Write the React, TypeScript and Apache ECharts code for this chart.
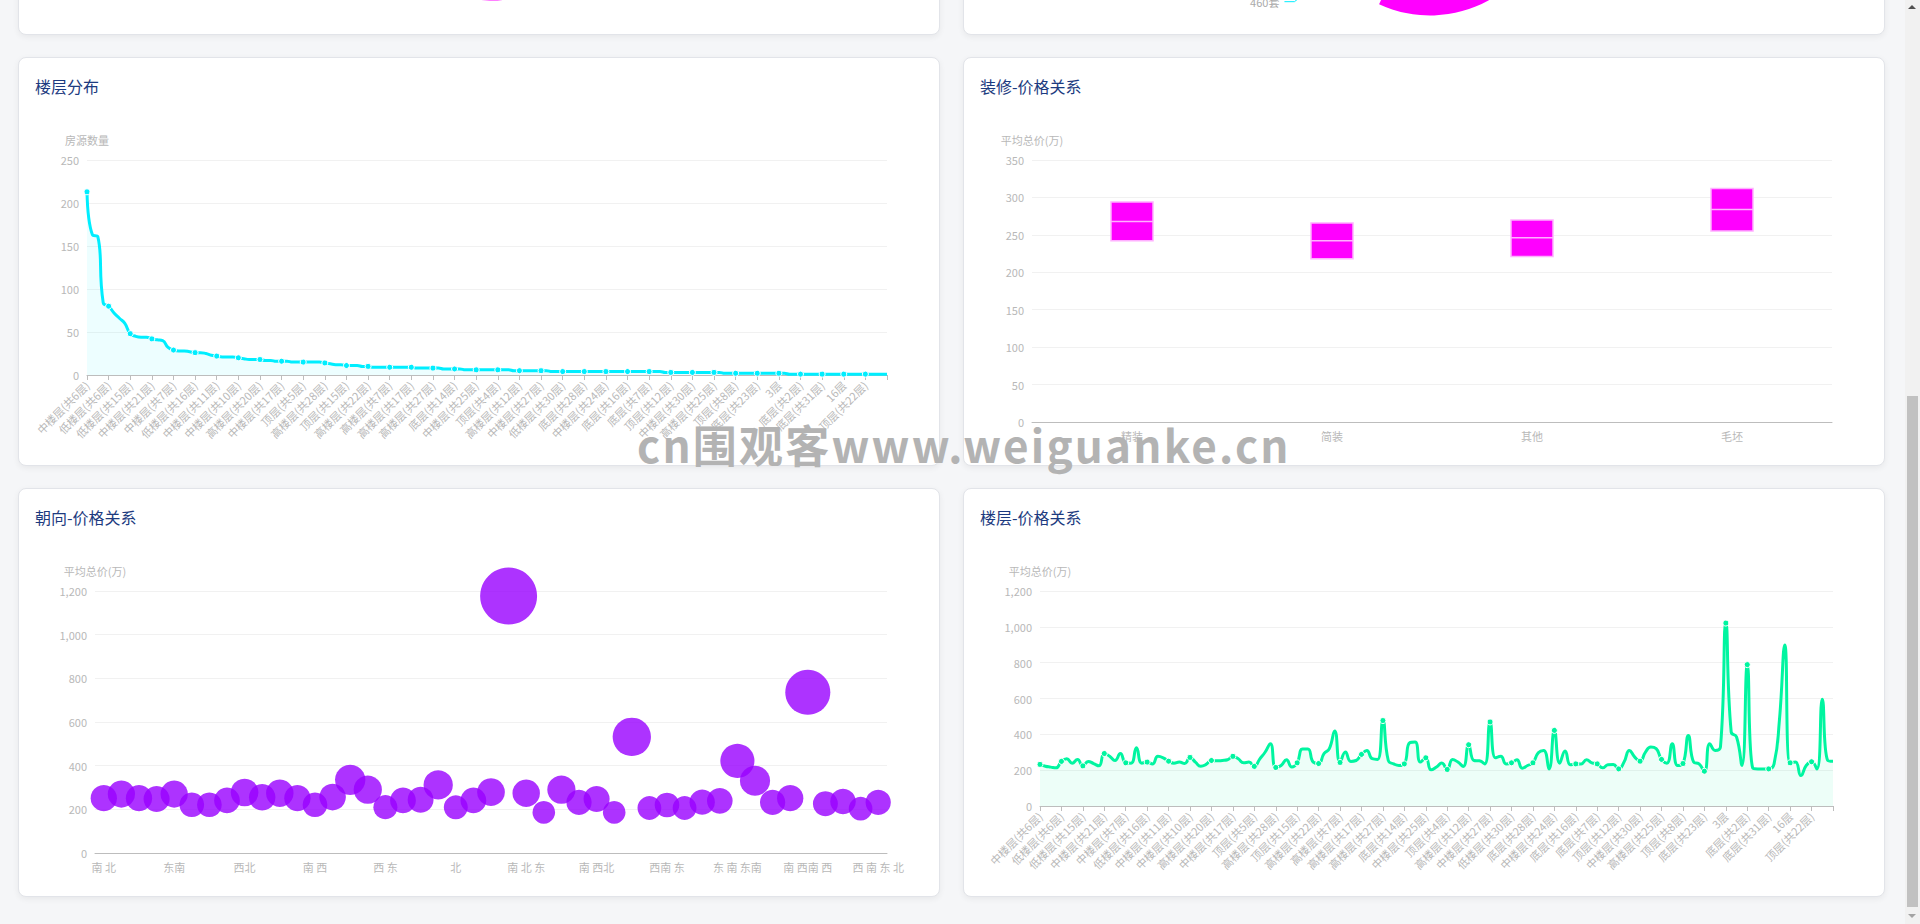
import React, { useEffect, useRef } from 'react';
import * as echarts from 'echarts';

// ---------------- data ----------------
const floorCategories = [
  '中楼层(共6层)', '高楼层(共6层)', '中楼层(共18层)', '高楼层(共18层)', '低楼层(共6层)', '低楼层(共18层)', '中楼层(共33层)', '高楼层(共33层)', '低楼层(共15层)', '低楼层(共33层)',
  '中楼层(共26层)', '高楼层(共11层)', '中楼层(共21层)', '低楼层(共11层)', '中楼层(共32层)', '高楼层(共26层)', '中楼层(共7层)', '低楼层(共26层)', '中楼层(共34层)', '高楼层(共32层)',
  '低楼层(共16层)', '低楼层(共32层)', '中楼层(共28层)', '高楼层(共34层)', '中楼层(共11层)', '低楼层(共7层)', '高楼层(共10层)', '低楼层(共34层)', '中楼层(共10层)', '中楼层(共15层)',
  '低楼层(共10层)', '高楼层(共15层)', '高楼层(共20层)', '低楼层(共28层)', '高楼层(共21层)', '低楼层(共21层)', '中楼层(共17层)', '中楼层(共20层)', '低楼层(共17层)', '中楼层(共16层)',
  '顶层(共5层)', '高楼层(共16层)', '中楼层(共22层)', '低楼层(共20层)', '高楼层(共28层)', '低楼层(共22层)', '中楼层(共29层)', '高楼层(共29层)', '顶层(共15层)', '低楼层(共29层)',
  '中楼层(共12层)', '低楼层(共25层)', '高楼层(共22层)', '低楼层(共27层)', '中楼层(共31层)', '低楼层(共12层)', '高楼层(共7层)', '高楼层(共31层)', '顶层(共6层)', '中楼层(共5层)',
  '高楼层(共17层)', '低楼层(共31层)', '中楼层(共9层)', '高楼层(共24层)', '高楼层(共27层)', '低楼层(共24层)', '中楼层(共14层)', '高楼层(共9层)', '底层(共14层)', '中楼层(共8层)',
  '低楼层(共9层)', '高楼层(共14层)', '中楼层(共25层)', '底层(共6层)', '中楼层(共4层)', '低楼层(共14层)', '顶层(共4层)', '高楼层(共30层)', '中楼层(共23层)', '顶层(共7层)',
  '高楼层(共12层)', '底层(共18层)', '高楼层(共23层)', '低楼层(共23层)', '中楼层(共27层)', '中楼层(共13层)', '底层(共33层)', '高楼层(共13层)', '低楼层(共30层)', '底层(共11层)',
  '顶层(共18层)', '低楼层(共13层)', '底层(共28层)', '中楼层(共19层)', '顶层(共33层)', '高楼层(共19层)', '中楼层(共24层)', '底层(共26层)', '顶层(共11层)', '低楼层(共19层)',
  '底层(共16层)', '中楼层(共3层)', '顶层(共26层)', '高楼层(共8层)', '底层(共7层)', '底层(共32层)', '顶层(共32层)', '低楼层(共8层)', '顶层(共12层)', '底层(共34层)',
  '顶层(共34层)', '高楼层(共5层)', '中楼层(共30层)', '底层(共10层)', '顶层(共28层)', '底层(共21层)', '高楼层(共25层)', '顶层(共21层)', '底层(共15层)', '顶层(共17层)',
  '顶层(共8层)', '底层(共17层)', '顶层(共16层)', '底层(共20层)', '底层(共23层)', '顶层(共20层)', '底层(共29层)', '顶层(共29层)', '3层', '中楼层(共2层)',
  '底层(共12层)', '顶层(共25层)', '底层(共2层)', '底层(共25层)', '顶层(共31层)', '底层(共27层)', '底层(共31层)', '顶层(共27层)', '底层(共24层)', '顶层(共24层)',
  '16层', '2层', '底层(共22层)', '顶层(共14层)', '顶层(共22层)', '底层(共13层)', '5层', '顶层(共13层)', '底层(共9层)',
];

const floorCounts = [
  213, 163, 161, 84, 80, 72, 66, 60, 48, 45,
  44, 44, 42, 41, 40, 32, 29, 28, 28, 27,
  26, 26, 25, 23, 22, 21, 21, 21, 20, 19,
  18, 18, 18, 17, 17, 16, 16, 16, 15, 15,
  15, 15, 15, 15, 14, 13, 12, 12, 11, 11,
  11, 10, 10, 9, 9, 9, 9, 9, 9, 9,
  9, 8, 8, 8, 8, 8, 7, 7, 7, 7,
  6, 6, 6, 6, 6, 6, 6, 6, 6, 5,
  5, 5, 5, 5, 5, 5, 4, 4, 4, 4,
  4, 4, 4, 4, 4, 4, 4, 4, 4, 4,
  4, 4, 4, 4, 4, 4, 4, 3, 3, 3,
  3, 3, 3, 3, 3, 3, 3, 3, 2, 2,
  2, 2, 2, 2, 2, 2, 2, 2, 2, 2,
  1, 1, 1, 1, 1, 1, 1, 1, 1, 1,
  1, 1, 1, 1, 1, 1, 1, 1, 1,
];

const floorPrices = [
  232, 222, 217, 213, 249, 264, 239, 260, 224, 249,
  237, 224, 293, 278, 254, 293, 241, 239, 325, 239,
  245, 235, 277, 269, 250, 239, 245, 237, 271, 245,
  222, 232, 254, 252, 254, 258, 277, 264, 241, 245,
  221, 262, 300, 348, 215, 226, 258, 217, 241, 318,
  318, 245, 237, 292, 320, 419, 243, 301, 249, 254,
  288, 310, 264, 260, 477, 254, 235, 226, 235, 353,
  357, 245, 269, 202, 218, 240, 204, 260, 245, 221,
  342, 254, 252, 235, 469, 269, 277, 235, 241, 258,
  211, 226, 241, 297, 310, 207, 422, 239, 307, 230,
  235, 235, 258, 241, 235, 213, 230, 232, 207, 245,
  310, 273, 250, 301, 329, 320, 260, 239, 348, 226,
  237, 394, 245, 235, 194, 348, 310, 330, 1021, 413,
  385, 226, 789, 213, 207, 207, 207, 235, 479, 899,
  241, 245, 170, 226, 247, 207, 596, 255, 250,
];

const decorationTypes = ['精装', '简装', '其他', '毛坯'];
const decorationLow = [242, 218, 221, 255];
const decorationMedian = [268, 242, 246, 284];
const decorationHigh = [294, 266, 270, 312];

const orientationNames = [
  '南 北', '南', '东 西', '东', '东南', '西', '西南', '东北', '西北', '南 东南',
  '东南 南', '北 南', '南 西', '东 南', '西南 南', '东南 北', '西 东', '东 北', '南 西南', '西 北',
  '北', '东南 西北', '西南 东北', '东 南 西 北', '南 北 东', '北 东', '南 东 北', '西南 西', '南 西北', '东北 西南',
  '东 西 南', '南 东北', '西南 东', '东 东南', '西北 东南', '北 西', '东 南 东南', '南 北 西', '西南 北', '东南 西',
  '南 西南 西', '西 南', '东北 南', '西 西南', '西 南 东 北',
];
const orientationPrices = [
  251, 270, 251, 247, 270, 221, 221, 241, 277, 255,
  274, 251, 221, 256, 335, 290, 210, 241, 244, 312,
  209, 241, 279, 1177, 274, 186, 290, 232, 247, 186,
  532, 206, 220, 206, 233, 239, 422, 331, 232, 251,
  736, 226, 236, 203, 232,
];

const roomTypeNames = ['2室1厅', '1室1厅', '3室2厅', '3室1厅', '2室2厅', '4室2厅'];
const roomTypeCounts = [927, 460, 620, 540, 343, 200];

const areaRangeNames = ['50-70㎡', '70-90㎡', '90-110㎡', '110-130㎡', '50㎡以下', '130㎡以上'];
const areaRangeCounts = [1150, 820, 420, 300, 240, 170];

// ---------------- styles ----------------
const FONT = '"Microsoft YaHei", "Noto Sans CJK SC", sans-serif';
const CYAN = '#00eeff';
const MAGENTA = '#ff00ff';
const PURPLE = '#9900ff';
const GREEN = '#00f5a0';
const TITLE_COLOR = '#1d3b80';
const AXIS_TEXT = '#b8b8b8';
const AXIS_LINE = '#bdbdbd';
const SPLIT = '#f1f1f1';

const CARD_W = 922;
const CARD_H = 409;

function titleOf(text: string) {
  return {
    text,
    left: 16,
    top: 20,
    padding: 0,
    textStyle: { fontSize: 16, fontWeight: 'normal', color: TITLE_COLOR, fontFamily: FONT },
  };
}

function valueAxis(name: string, max: number, interval: number) {
  return {
    type: 'value',
    name,
    min: 0,
    max,
    interval,
    nameTextStyle: { color: AXIS_TEXT, fontSize: 11, fontFamily: FONT },
    axisLabel: { color: AXIS_TEXT, fontSize: 11, fontFamily: FONT },
    axisLine: { show: false },
    axisTick: { show: false },
    splitLine: { lineStyle: { color: SPLIT } },
  };
}

function floorAxis() {
  return {
    type: 'category',
    boundaryGap: false,
    data: floorCategories,
    axisLine: { lineStyle: { color: AXIS_LINE } },
    axisTick: { interval: 3, lineStyle: { color: AXIS_LINE } },
    axisLabel: {
      interval: (i: number) => i % 4 === 0 && i < floorCategories.length - 1,
      rotate: 45,
      color: AXIS_TEXT,
      fontSize: 11,
      fontFamily: FONT,
    },
  };
}

const floorDistOption = {
  animation: false,
  title: titleOf('楼层分布'),
  grid: { left: 68, right: 52, top: 102, bottom: 90 },
  xAxis: floorAxis(),
  yAxis: valueAxis('房源数量', 250, 50),
  series: [
    {
      type: 'line',
      data: floorCounts,
      smooth: true,
      symbol: 'circle',
      symbolSize: 6,
      lineStyle: { width: 3, color: CYAN },
      itemStyle: { color: CYAN, borderColor: '#fff', borderWidth: 1 },
      areaStyle: { color: 'rgba(0,238,255,0.1)' },
    },
  ],
};

const floorPriceOption = {
  animation: false,
  title: titleOf('楼层-价格关系'),
  grid: { left: 76, right: 51, top: 102, bottom: 90 },
  xAxis: floorAxis(),
  yAxis: valueAxis('平均总价(万)', 1200, 200),
  series: [
    {
      type: 'line',
      data: floorPrices,
      smooth: true,
      symbol: 'circle',
      symbolSize: 6,
      lineStyle: { width: 3, color: GREEN },
      itemStyle: { color: GREEN, borderColor: '#fff', borderWidth: 1 },
      areaStyle: { color: 'rgba(0,245,160,0.1)' },
    },
  ],
};

const decorationOption = {
  animation: false,
  title: titleOf('装修-价格关系'),
  grid: { left: 68, right: 52, top: 102, bottom: 43 },
  xAxis: {
    type: 'category',
    data: decorationTypes,
    axisLine: { lineStyle: { color: AXIS_LINE } },
    axisTick: { lineStyle: { color: AXIS_LINE } },
    axisLabel: { color: AXIS_TEXT, fontSize: 11, fontFamily: FONT },
  },
  yAxis: valueAxis('平均总价(万)', 350, 50),
  series: [
    {
      type: 'boxplot',
      data: decorationTypes.map((_, i) => [
        decorationLow[i],
        decorationLow[i],
        decorationMedian[i],
        decorationHigh[i],
        decorationHigh[i],
      ]),
      boxWidth: [42, 42],
      itemStyle: { color: MAGENTA, borderColor: '#ffb0ff', borderWidth: 1.5 },
    },
  ],
};

const orientationOption = {
  animation: false,
  title: titleOf('朝向-价格关系'),
  grid: { left: 76, right: 52, top: 102, bottom: 43 },
  xAxis: {
    type: 'category',
    data: orientationNames,
    axisLine: { lineStyle: { color: AXIS_LINE } },
    axisTick: { interval: 3, lineStyle: { color: AXIS_LINE } },
    axisLabel: { interval: 3, color: AXIS_TEXT, fontSize: 11, fontFamily: FONT },
  },
  yAxis: valueAxis('平均总价(万)', 1200, 200),
  series: [
    {
      type: 'scatter',
      data: orientationPrices,
      symbolSize: (v: number) => Math.sqrt(v) * 1.66,
      itemStyle: { color: PURPLE, opacity: 0.8 },
    },
  ],
};

const areaPieOption = {
  animation: false,
  color: [CYAN, MAGENTA, PURPLE, GREEN, '#ffd000', '#ff6a00'],
  series: [
    {
      type: 'pie',
      center: [473, 254],
      radius: [0, 119.5],
      label: { show: false },
      labelLine: { show: false },
      data: areaRangeNames.map((n, i) => ({ name: n, value: areaRangeCounts[i] })),
    },
  ],
};

const roomPieOption = {
  animation: false,
  color: [MAGENTA, CYAN, PURPLE, GREEN, '#ffd000', '#ff6a00'],
  series: [
    {
      type: 'pie',
      roseType: 'radius',
      center: [466, 268],
      radius: [15, 120.5],
      startAngle: -7,
      avoidLabelOverlap: false,
      data: roomTypeNames.map((n, i) => ({
        name: n,
        value: roomTypeCounts[i],
        label: { show: i === 1 },
        labelLine: { show: i === 1 },
      })),
      label: { formatter: '{c}套', color: '#aaa', fontSize: 11, fontFamily: FONT },
      labelLine: { length: 52, length2: 10 },
    },
  ],
};

// ---------------- components ----------------
function Chart({ option }: { option: any }) {
  const ref = useRef<HTMLDivElement>(null);
  useEffect(() => {
    if (!ref.current) return;
    const chart = echarts.init(ref.current, null, { renderer: 'svg' });
    chart.setOption(option);
    return () => chart.dispose();
  }, [option]);
  return <div ref={ref} style={{ position: 'absolute', left: 0, top: 0, width: CARD_W - 2, height: CARD_H - 2 }} />;
}

function Card({ left, top, option }: { left: number; top: number; option: any }) {
  return (
    <div
      style={{
        position: 'absolute',
        left,
        top,
        width: CARD_W,
        height: CARD_H,
        boxSizing: 'border-box',
        background: '#fff',
        border: '1px solid #e2e4e9',
        borderRadius: 8,
        boxShadow: '0 2px 6px rgba(0,0,0,0.06)',
        overflow: 'hidden',
      }}
    >
      <Chart option={option} />
    </div>
  );
}

export default function App() {
  return (
    <div
      style={{
        position: 'fixed',
        left: 0,
        top: 0,
        width: 1920,
        height: 924,
        background: '#f5f6f8',
        overflow: 'hidden',
      }}
    >
      <Card left={18} top={-374} option={areaPieOption} />
      <Card left={963} top={-374} option={roomPieOption} />
      <Card left={18} top={57} option={floorDistOption} />
      <Card left={963} top={57} option={decorationOption} />
      <Card left={18} top={488} option={orientationOption} />
      <Card left={963} top={488} option={floorPriceOption} />

      <div
        style={{
          position: 'absolute',
          left: 637,
          top: 418,
          fontFamily: '"Noto Sans CJK SC", sans-serif',
          fontWeight: 700,
          fontSize: 44,
          letterSpacing: '2.2px',
          lineHeight: '52px',
          color: '#b3b3b3',
          whiteSpace: 'nowrap',
          pointerEvents: 'none',
        }}
      >
        cn围观客www.weiguanke.cn
      </div>

      <div style={{ position: 'absolute', left: 1905, top: 0, width: 15, height: 924, background: '#f1f1f1' }}>
        <div style={{ position: 'absolute', left: 3, top: 5, width: 0, height: 0, borderLeft: '4px solid transparent', borderRight: '4px solid transparent', borderBottom: '4px solid #505050' }} />
        <div style={{ position: 'absolute', left: 2, top: 396, width: 11, height: 511, background: '#c1c1c1' }} />
        <div style={{ position: 'absolute', left: 3, top: 914, width: 0, height: 0, borderLeft: '4px solid transparent', borderRight: '4px solid transparent', borderTop: '4px solid #a3a3a3' }} />
      </div>
    </div>
  );
}
